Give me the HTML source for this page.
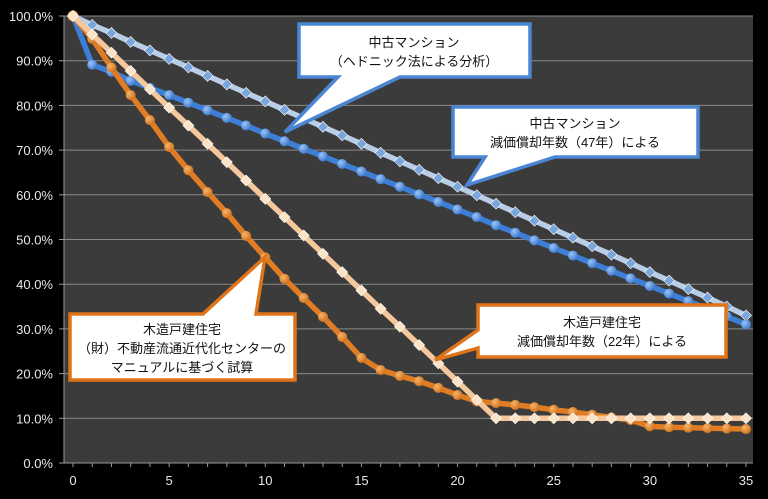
<!DOCTYPE html>
<html><head><meta charset="utf-8"><style>
html,body{margin:0;padding:0;background:#000;}
svg{display:block;font-family:"Liberation Sans","Noto Sans CJK JP",sans-serif;}
</style></head><body>
<svg id="chart" width="768" height="499" viewBox="0 0 768 499" xmlns="http://www.w3.org/2000/svg">
<defs>
<radialGradient id="gBlue" cx="35%" cy="35%" r="70%"><stop offset="0" stop-color="#9cc4f5"/><stop offset="1" stop-color="#3a78d0"/></radialGradient>
<radialGradient id="gOr" cx="35%" cy="35%" r="70%"><stop offset="0" stop-color="#f6b46a"/><stop offset="1" stop-color="#d0701a"/></radialGradient>
</defs>
<rect x="0" y="0" width="768" height="499" fill="#000"/>
<rect x="64" y="16" width="689" height="447" fill="#3b3b3b"/>
<g id="grid"></g><g id="axes"></g><g id="series"></g><g id="callouts"></g>
</svg>
<script>
const years = [0,1,2,3,4,5,6,7,8,9,10,11,12,13,14,15,16,17,18,19,20,21,22,23,24,25,26,27,28,29,30,31,32,33,34,35];
const hedonicValues = [100,98,96.2,94.2,92.3,90.4,88.5,86.6,84.7,82.8,80.9,79,77.1,75.2,73.3,71.4,69.4,67.5,65.6,63.7,61.8,59.9,58,56.1,54.2,52.3,50.4,48.5,46.6,44.7,42.7,40.8,38.9,37,35,33];
const mansion47Values = [100,89.1,87.5,85.5,83.9,82.3,80.6,78.9,77.2,75.5,73.7,72,70.3,68.6,66.9,65.2,63.5,61.8,60.1,58.4,56.7,55,53.2,51.5,49.8,48.1,46.4,44.7,43,41.3,39.6,37.9,36.2,34.5,32.8,31];
const wood22Values = [100,95.9,91.8,87.7,83.6,79.5,75.5,71.4,67.3,63.2,59.1,55,50.9,46.8,42.7,38.6,34.5,30.5,26.4,22.3,18.2,14.1,10,10,10,10,10,10,10,10,10,10,10,10,10,10];
const woodManualValues = [100,94.9,88.5,82.3,76.7,70.7,65.5,60.6,55.9,50.8,46,41.2,36.9,32.7,28.2,23.5,20.8,19.5,18.3,16.8,15.2,13.8,13.4,13,12.5,11.9,11.4,10.8,10.2,9.6,8.2,8,7.9,7.8,7.7,7.6];
const yTicks = [0,10,20,30,40,50,60,70,80,90,100];
const yTickLabels = ["0.0%","10.0%","20.0%","30.0%","40.0%","50.0%","60.0%","70.0%","80.0%","90.0%","100.0%"];
const xTicks = [0,5,10,15,20,25,30,35];

const NS="http://www.w3.org/2000/svg";
function X(v){return 73+v*(746-73)/35;}
function Y(v){return 463-v*(463-16)/100;}
function mk(tag,attrs,parent){const e=document.createElementNS(NS,tag);for(const k in attrs)e.setAttribute(k,attrs[k]);parent.appendChild(e);return e;}
const grid=document.getElementById('grid'),axes=document.getElementById('axes'),series=document.getElementById('series'),call=document.getElementById('callouts');

yTicks.forEach((t,i)=>{
  const l=mk('line',{x1:64,x2:753,y1:Y(t),y2:Y(t),stroke:'#8a8a8a','stroke-width':1},grid);
  
  
  const tk=mk('line',{x1:59,x2:64,y1:Y(t),y2:Y(t),stroke:'#999'},axes);
  
  
  const tx=mk('text',{x:53,y:Y(t)+5,'text-anchor':'end','font-size':13,fill:'#e8e8e8'},axes);
  tx.textContent=yTickLabels[i];
  
  
});
const xa=mk('line',{x1:64,x2:753,y1:463,y2:463,stroke:'#999'},axes);


const ya=mk('line',{x1:64,x2:64,y1:16,y2:463,stroke:'#999'},axes);


years.forEach(y=>{
  const tk=mk('line',{x1:X(y),x2:X(y),y1:463,y2:467,stroke:'#999'},axes);
  
  
});
xTicks.forEach(t=>{
  const tx=mk('text',{x:X(t),y:485,'text-anchor':'middle','font-size':13,fill:'#e8e8e8'},axes);
  tx.textContent=t;
  
  
});

function drawSeries(vals,color,fill,shape,name){
  const g=mk('g',{},series);
  
  
  const pts=vals.map((v,i)=>X(years[i])+','+Y(v)).join(' ');
  mk('polyline',{points:pts,fill:'none',stroke:color,'stroke-width':5.5,'stroke-linejoin':'round'},g);
  vals.forEach((v,i)=>{
    const cx=X(years[i]),cy=Y(v);
    let m;
    if(shape==='circle'){m=mk('circle',{cx:cx,cy:cy,r:i===0?5.5:5,fill:fill},g);}
    else{m=mk('polygon',{points:`${cx},${cy-5.5} ${cx+5.5},${cy} ${cx},${cy+5.5} ${cx-5.5},${cy}`,fill:fill,stroke:'#fff','stroke-width':0.6},g);}
    
    
  });
}
drawSeries(hedonicValues,'#b9cde6','#7aa6dc','diamond','series-mansion-hedonic');
drawSeries(mansion47Values,'#3d7fd6','url(#gBlue)','circle','series-mansion-47yr');
drawSeries(woodManualValues,'#e07d24','url(#gOr)','circle','series-wood-manual');
drawSeries(wood22Values,'#f4c89c','#fbe3c8','diamond','series-wood-22yr');

function callout(pathD,color,lines,cx,cy,name){
  const g=mk('g',{},call);
  
  
  mk('path',{d:pathD,fill:'#fff',stroke:color,'stroke-width':3.5,'stroke-linejoin':'miter'},g);
  lines.forEach((s,i)=>{
    const t=mk('text',{x:cx,y:cy+i*19,'text-anchor':'middle','font-size':13,fill:'#111'},g);
    t.textContent=s;
  });
}
callout('M299,24 H530 V77 H400 L285,132 L338,77 H299 Z','#4a86d4',['中古マンション','（ヘドニック法による分析）'],414,47,'callout-hedonic');
callout('M453,107 H698 V157 H555 L467,185 L485,157 H453 Z','#4a86d4',['中古マンション','減価償却年数（47年）による'],575,128,'callout-mansion-47yr');
callout('M70,314 H203 L265,257 L256,314 H295 V380 H70 Z','#e07418',['木造戸建住宅','（財）不動産流通近代化センターの','マニュアルに基づく試算'],182,334,'callout-wood-manual');
callout('M478,305 H726 V357 H478 V348 L435,360 L478,330 Z','#e07418',['木造戸建住宅','減価償却年数（22年）による'],602,327,'callout-wood-22yr');
</script>
</body></html>
